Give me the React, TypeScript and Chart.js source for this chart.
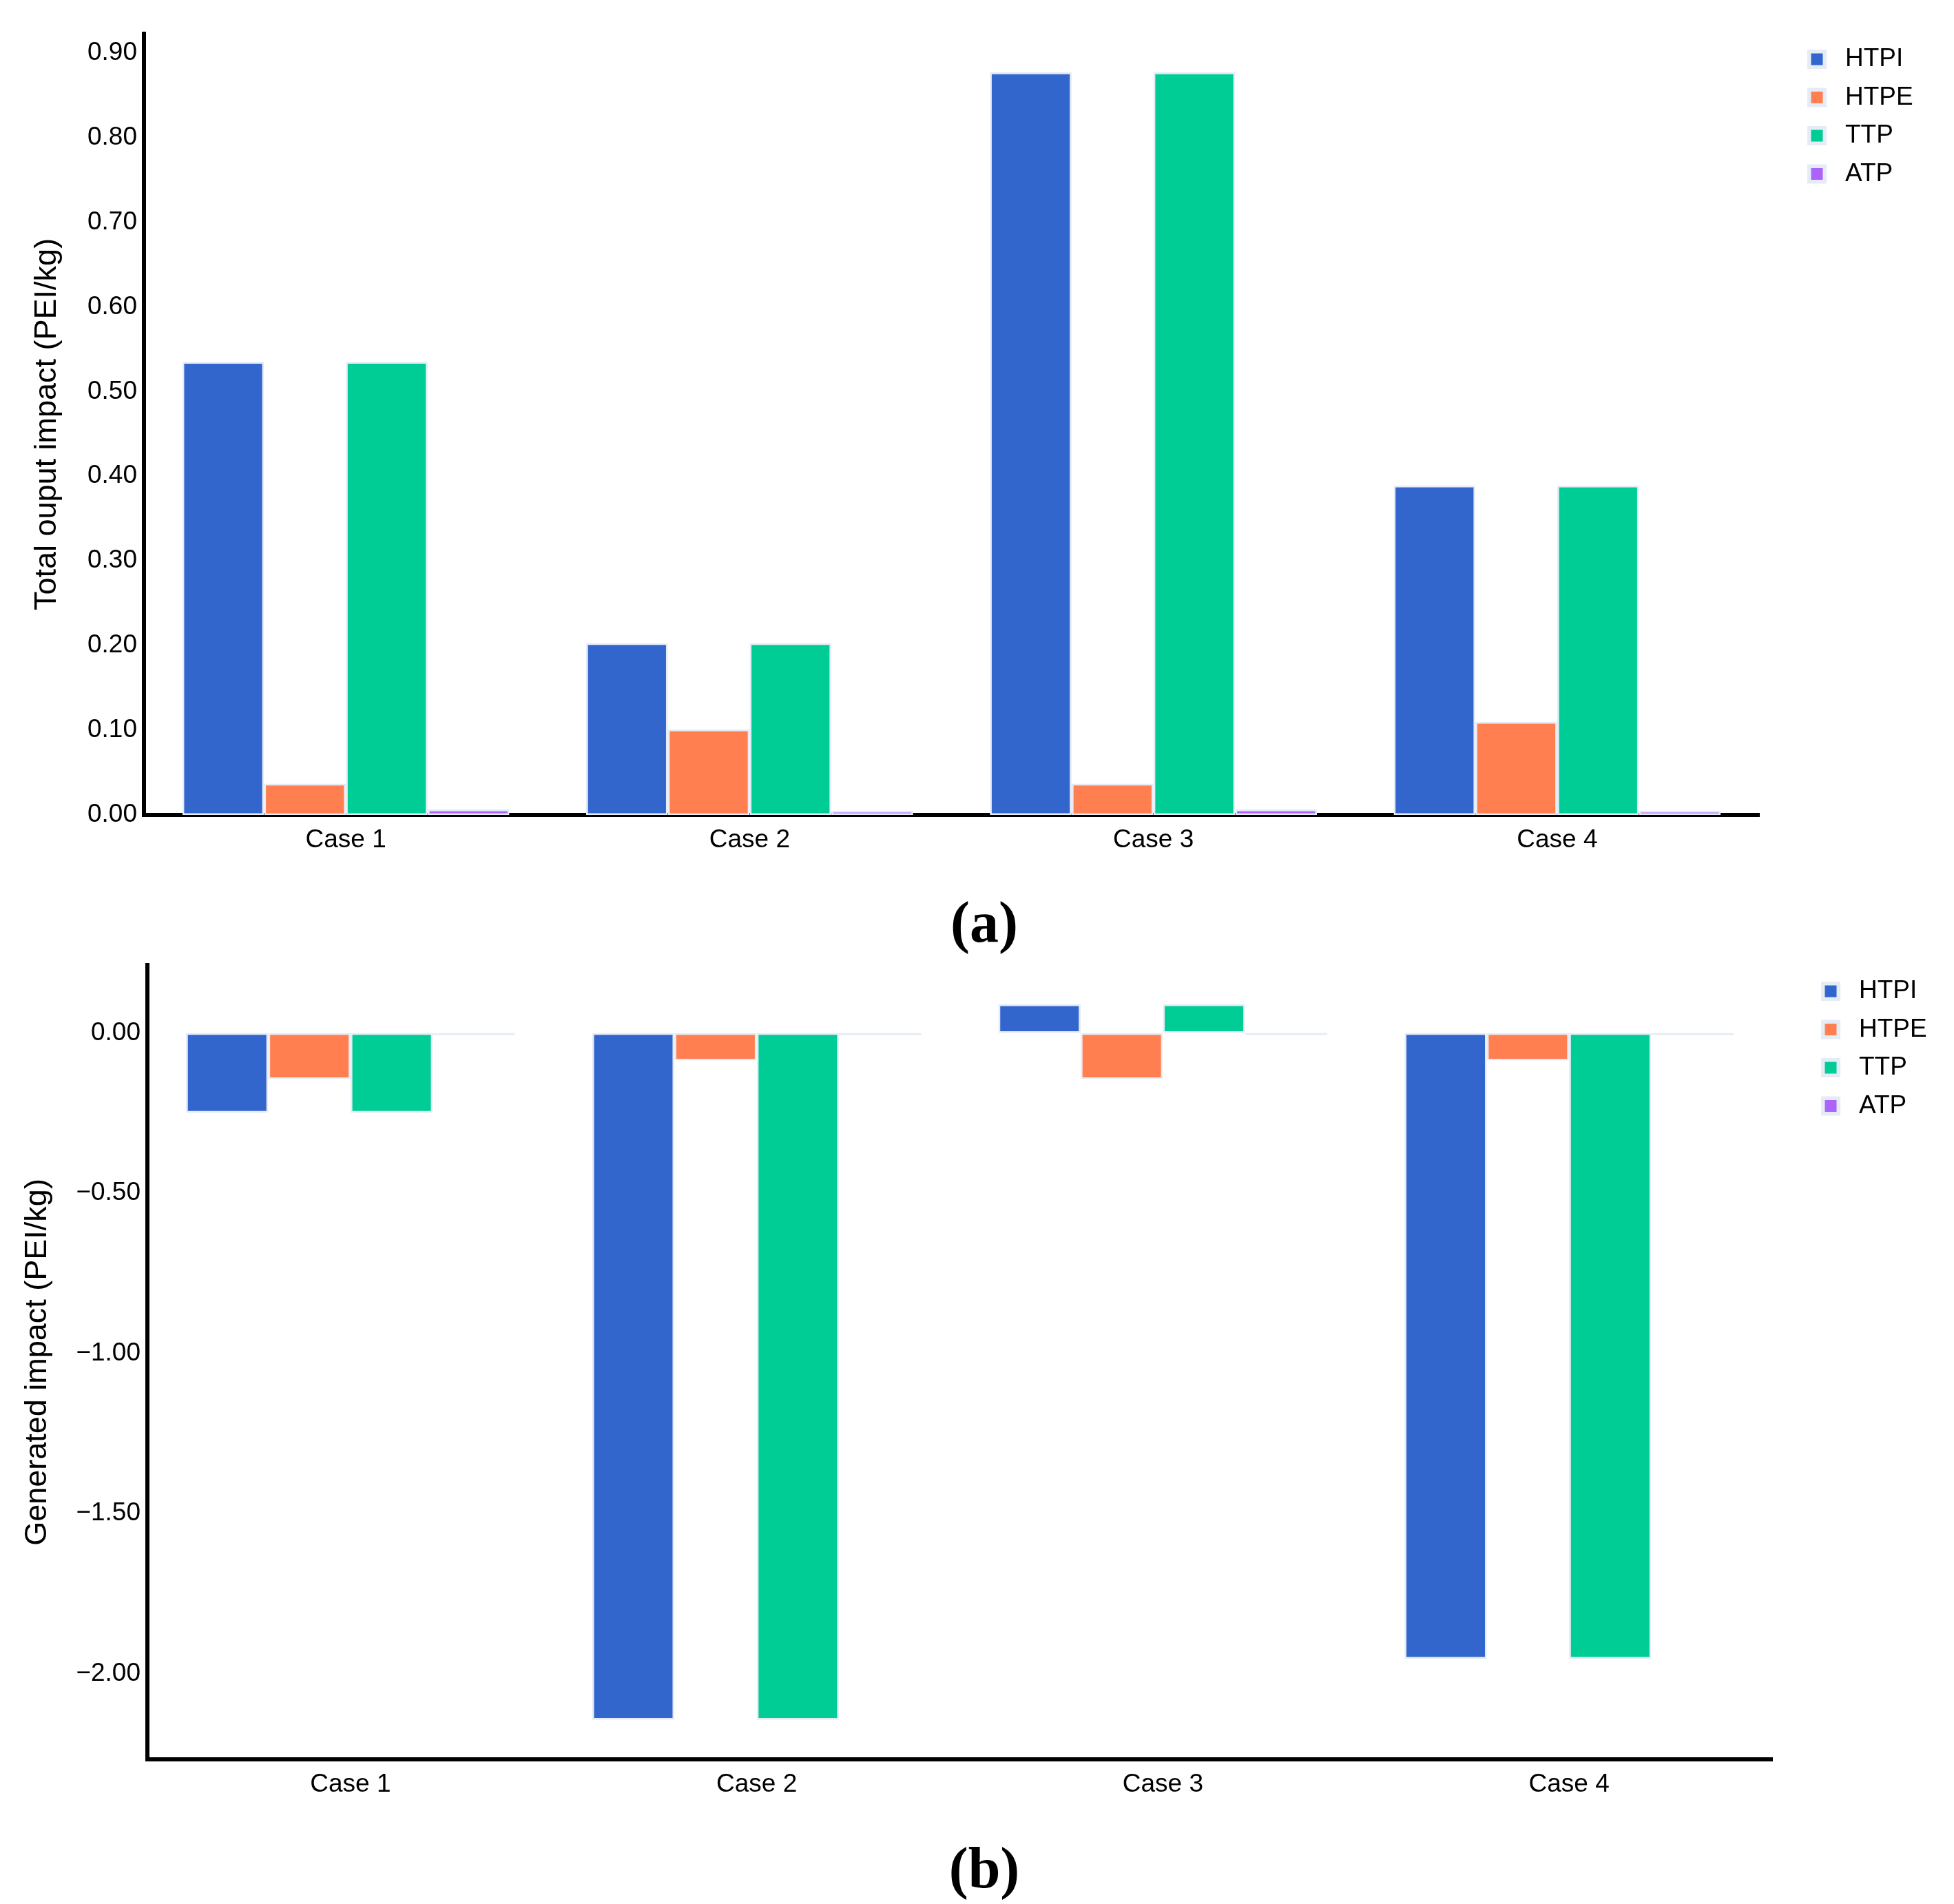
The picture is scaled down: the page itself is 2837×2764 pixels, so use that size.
import { useEffect, useRef } from "react";
import { Chart, registerables } from "chart.js";

Chart.register(...registerables);

const FONT = "'Liberation Sans', Arial, Helvetica, sans-serif";

const categories = ["Case 1", "Case 2", "Case 3", "Case 4"];
const seriesNames = ["HTPI", "HTPE", "TTP", "ATP"];
const seriesColors = ["#3366CC", "#FF7F50", "#00CC96", "#AB63FA"];
const barLine = "#E5ECF6";

// (a) total output impact
const outputHTPI = [0.535, 0.203, 0.877, 0.389];
const outputHTPE = [0.037, 0.101, 0.037, 0.11];
const outputTTP = [0.535, 0.203, 0.877, 0.389];
const outputATP = [0.0065, 0.005, 0.0065, 0.005];
const outputTicks = [0, 0.1, 0.2, 0.3, 0.4, 0.5, 0.6, 0.7, 0.8, 0.9];

// (b) generated impact
const generatedHTPI = [-0.249, -2.144, 0.09, -1.953];
const generatedHTPE = [-0.144, -0.086, -0.144, -0.086];
const generatedTTP = [-0.249, -2.144, 0.09, -1.953];
const generatedATP = [-0.007, -0.007, -0.007, -0.007];
const generatedTicks = [-2, -1.5, -1, -0.5, 0];

const fmt = (v: number | string) => {
  const n = Number(v);
  const s = Math.abs(n).toFixed(2);
  return n < -1e-9 ? "\u2212" + s : s;
};

// legend drawn beside the plot, the way the original figure has it
const sideLegend = {
  id: "sideLegend",
  afterDraw(chart: any, _args: any, opts: any) {
    const { ctx } = chart;
    ctx.save();
    ctx.font = `${opts.fontSize}px ${FONT}`;
    ctx.textBaseline = "middle";
    ctx.textAlign = "left";
    chart.data.datasets.forEach((ds: any, i: number) => {
      const cy = opts.y + i * opts.gap;
      ctx.fillStyle = barLine;
      ctx.fillRect(opts.x, cy - 14, 28, 28);
      ctx.fillStyle = ds.backgroundColor;
      ctx.fillRect(opts.x + 5.5, cy - 8.5, 17, 17);
      ctx.fillStyle = "#000";
      ctx.fillText(ds.label, opts.textX, cy);
    });
    ctx.restore();
  },
};

interface PanelProps {
  series: number[][];
  min: number;
  max: number;
  tickValues: number[];
  title: string;
  top: number;
  height: number;
  padTop: number;
  padRight: number;
  axisWidth: number;
  xHeight: number;
  titlePad: number;
  legendX: number;
  legendTextX: number;
  legendY: number;
}

function BarPanel(p: PanelProps) {
  const canvasRef = useRef<HTMLCanvasElement>(null);

  useEffect(() => {
    if (!canvasRef.current) return;
    const chart = new Chart(canvasRef.current, {
      type: "bar",
      data: {
        labels: categories,
        datasets: p.series.map((data, i) => ({
          label: seriesNames[i],
          data,
          backgroundColor: seriesColors[i],
          borderColor: barLine,
          borderWidth: 2.7,
          borderSkipped: false,
          barPercentage: 1,
          categoryPercentage: 0.81,
        })),
      },
      options: {
        animation: false,
        responsive: true,
        maintainAspectRatio: false,
        layout: { padding: { top: p.padTop, right: p.padRight, left: 0, bottom: 0 } },
        plugins: {
          legend: { display: false },
          tooltip: { enabled: false },
          sideLegend: { x: p.legendX, textX: p.legendTextX, y: p.legendY, gap: 55.5, fontSize: 37 },
        } as any,
        scales: {
          x: {
            grid: { display: false, drawTicks: false },
            border: { display: true, color: "#000", width: 6 },
            ticks: { color: "#000", font: { family: FONT, size: 37 }, padding: 15 },
            afterFit: (s: any) => {
              s.height = p.xHeight;
              s.paddingLeft = 0;
              s.paddingRight = 0;
            },
          },
          y: {
            min: p.min,
            max: p.max,
            grid: { display: false, drawTicks: false },
            border: { display: true, color: "#000", width: 6 },
            ticks: {
              color: "#000",
              font: { family: FONT, size: 37 },
              padding: 10,
              callback: (v: any) => fmt(v),
            },
            title: {
              display: true,
              text: p.title,
              color: "#000",
              font: { family: FONT, size: 45 },
              padding: { top: p.titlePad, bottom: 0 },
            },
            afterBuildTicks: (s: any) => {
              s.ticks = p.tickValues.map((value) => ({ value }));
            },
            afterFit: (s: any) => {
              s.width = p.axisWidth;
              s.paddingTop = 0;
              s.paddingBottom = 0;
            },
          },
        },
      },
      plugins: [sideLegend],
    });
    return () => chart.destroy();
  }, []);

  return (
    <div style={{ position: "absolute", left: 0, top: p.top, width: 2837, height: p.height }}>
      <canvas ref={canvasRef} />
    </div>
  );
}

const panelLabel = (text: string, top: number) => (
  <div
    style={{
      position: "absolute",
      left: 1329,
      top,
      width: 200,
      textAlign: "center",
      font: "bold 84px 'Liberation Serif', 'Times New Roman', serif",
      lineHeight: "84px",
      color: "#000",
    }}
  >
    {text}
  </div>
);

export default function App() {
  return (
    <div style={{ position: "absolute", left: 0, top: 0, width: 2837, height: 2764, background: "#fff" }}>
      <BarPanel
        series={[outputHTPI, outputHTPE, outputTTP, outputATP]}
        min={0}
        max={0.9225}
        tickValues={outputTicks}
        title="Total ouput impact (PEI/kg)"
        top={0}
        height={1300}
        padTop={49}
        padRight={283}
        axisWidth={209}
        xHeight={117}
        titlePad={42}
        legendX={2624}
        legendTextX={2679}
        legendY={86}
      />
      {panelLabel("(a)", 1297)}
      <BarPanel
        series={[generatedHTPI, generatedHTPE, generatedTTP, generatedATP]}
        min={-2.267}
        max={0.212}
        tickValues={generatedTicks}
        title="Generated impact (PEI/kg)"
        top={1330}
        height={1330}
        padTop={71}
        padRight={264}
        axisWidth={214}
        xHeight={106}
        titlePad={28}
        legendX={2644}
        legendTextX={2699}
        legendY={109}
      />
      {panelLabel("(b)", 2670)}
    </div>
  );
}
